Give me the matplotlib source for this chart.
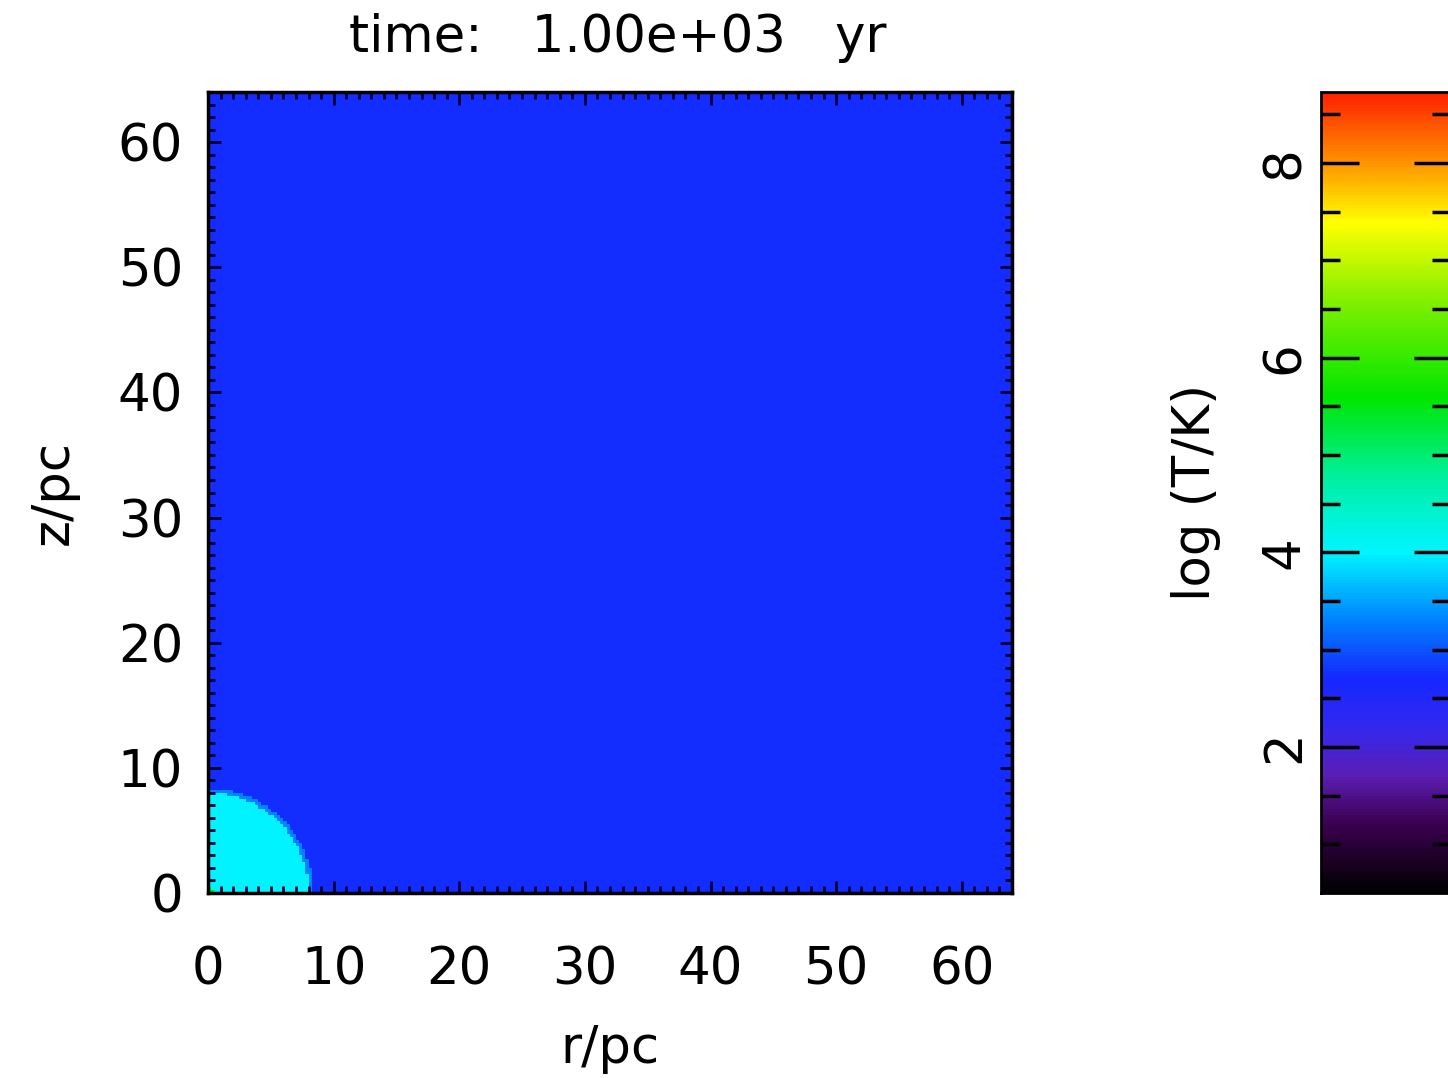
"""
Temperature map of a hot bubble at t = 1e3 yr, r-z plane.
"""

import numpy as np
import matplotlib.pyplot as plt
from matplotlib.colors import LinearSegmentedColormap

# grid and state
r_max = 64.0            # pc
z_max = 64.0            # pc
n_cells = 256
bubble_radius = 8.0     # pc
logT_ambient = 2.75
logT_bubble = 4.0
logT_edge = 3.3
logT_core = 5.6         # hot cells at the origin
cbar_min, cbar_max = 0.5, 8.73

# IDL-like rainbow (log T node, colour)
cmap_nodes = [0.5, 1.2, 1.7, 2.2, 2.7, 3.3, 4.0, 4.7, 5.6, 6.6, 7.4, 8.0, 8.73]
cmap_colors = ["#000000", "#3c0050", "#5a1eb4", "#3228f0", "#1428ff", "#0082ff",
               "#00f5ff", "#00f0aa", "#00e600", "#82f000", "#ffff00", "#ff9600",
               "#ff2000"]

title = "time:   1.00e+03   yr"
xlabel = "r/pc"
ylabel = "z/pc"
cbar_label = "log (T/K)"

# build the field
edges = np.linspace(0, r_max, n_cells + 1)
centres = 0.5 * (edges[:-1] + edges[1:])
rr, zz = np.meshgrid(centres, centres)
dist = np.hypot(rr, zz)
field = np.full(rr.shape, logT_ambient)
field[dist < bubble_radius + 0.35] = logT_edge
field[dist < bubble_radius] = logT_bubble
field[dist < 0.5] = logT_core

norm_nodes = [(v - cbar_min) / (cbar_max - cbar_min) for v in cmap_nodes]
cmap = LinearSegmentedColormap.from_list("rainbow39", list(zip(norm_nodes, cmap_colors)))

plt.rcParams["font.family"] = ["DejaVu Sans"]
fs = 37

W, H = 1448, 1078
fig = plt.figure(figsize=(W / 100, H / 100), dpi=100)
ax = fig.add_axes([208 / W, 1 - 893 / H, 804 / W, 801 / H])
mesh = ax.pcolormesh(edges, edges, field, cmap=cmap, vmin=cbar_min, vmax=cbar_max,
                     shading="flat")
ax.set_xlim(0, r_max)
ax.set_ylim(0, z_max)
ax.set_xticks(np.arange(0, 61, 10))
ax.set_yticks(np.arange(0, 61, 10))
ax.set_xticks(np.arange(0, 65, 1), minor=True)
ax.set_yticks(np.arange(0, 65, 1), minor=True)
ax.tick_params(which="both", direction="in", top=True, right=True, width=2, color="#000033")
ax.tick_params(which="major", length=9)
ax.tick_params(which="minor", length=5)
ax.tick_params(axis="x", labelsize=fs, pad=38)
ax.tick_params(axis="y", labelsize=fs, pad=18)
for s in ax.spines.values():
    s.set_linewidth(2.5)
ax.set_xlabel(xlabel, fontsize=fs, labelpad=20)
ax.set_ylabel(ylabel, fontsize=fs, labelpad=28)
fig.text(618 / W, 1 - 38 / H, title, fontsize=fs, ha="center", va="center")

cax = fig.add_axes([1321 / W, 1 - 893 / H, 130 / W, 801 / H])
cb = fig.colorbar(mesh, cax=cax)
cb.outline.set_linewidth(2)
cb.set_ticks([2, 4, 6, 8])
cb.ax.set_yticks(np.arange(1.0, 8.6, 0.5), minor=True)
cax.yaxis.set_ticks_position("both")
cax.yaxis.set_label_position("left")
cax.tick_params(which="both", direction="in", left=True, right=True,
                labelleft=True, labelright=False, width=2.5, color="black")
cax.tick_params(which="major", length=27, labelsize=fs, pad=8)
cax.tick_params(which="minor", length=14)
for lab in cax.get_yticklabels():
    lab.set_rotation(90)
    lab.set_va("center")
cb.set_label(cbar_label, fontsize=fs, labelpad=28)

plt.savefig("out.png", dpi=100)
print("Saved out.png")
